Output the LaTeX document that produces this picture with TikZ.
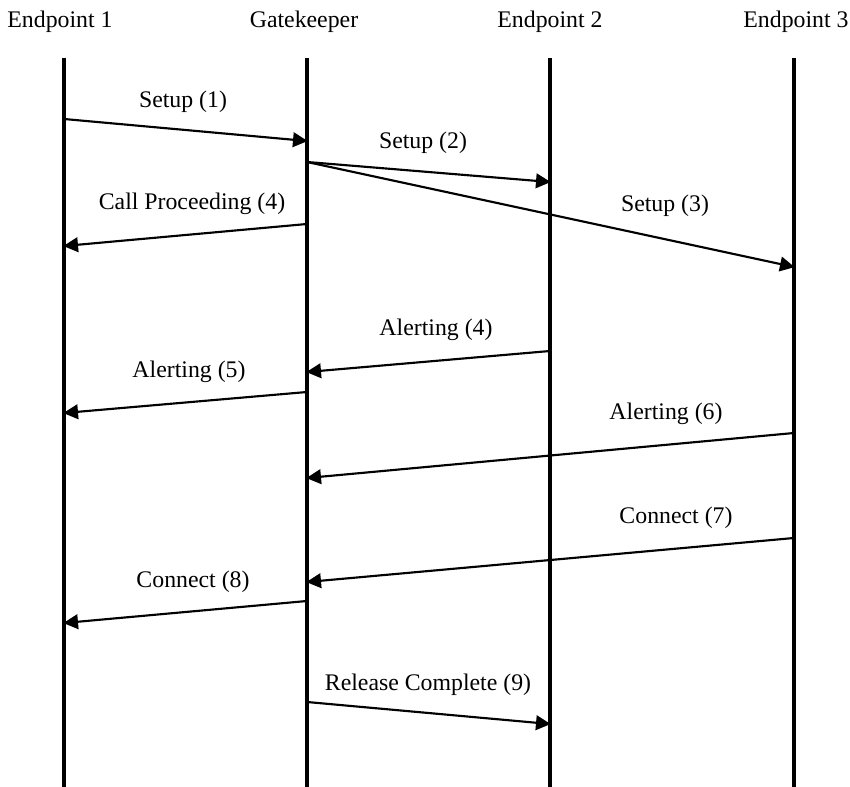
\documentclass[tikz,border=0pt]{standalone}
\usepackage{fontspec}
\setmainfont{Liberation Serif}
\usetikzlibrary{arrows.meta}
\begin{document}
\begin{tikzpicture}[x=0.75pt,y=-0.75pt,
  lbl/.style={inner sep=0pt,font=\fontsize{17.85}{20}\selectfont},
  life/.style={line width=2.3pt},
  msg/.style={line width=1.6pt,-{Triangle[length=11pt,width=11pt]},shorten >=-0.5pt}]
\useasboundingbox (0,0) rectangle (850,787);
% headers
\node[lbl] (h1) at (60,22) {Endpoint 1};
\node[lbl] (h2) at (304,22) {Gatekeeper};
\node[lbl] (h3) at (550,22) {Endpoint 2};
\node[lbl] (h4) at (796,22) {Endpoint 3};
% lifelines
\coordinate (t1) at (64,58); \coordinate (b1) at (64,787);
\coordinate (t2) at (307,58); \coordinate (b2) at (307,787);
\coordinate (t3) at (550,58); \coordinate (b3) at (550,787);
\coordinate (t4) at (794,58); \coordinate (b4) at (794,787);
\draw[life] (t1) -- (b1);
\draw[life] (t2) -- (b2);
\draw[life] (t3) -- (b3);
\draw[life] (t4) -- (b4);
% message end points
\coordinate (m1s) at (64,119);  \coordinate (m1e) at (307,141);
\coordinate (m2s) at (307,162); \coordinate (m2e) at (550,182);
\coordinate (m3e) at (794,267);
\coordinate (m4s) at (307,224); \coordinate (m4e) at (64,246);
\coordinate (m5s) at (550,351); \coordinate (m5e) at (307,372);
\coordinate (m6s) at (307,392); \coordinate (m6e) at (64,413);
\coordinate (m7s) at (794,433); \coordinate (m7e) at (307,478);
\coordinate (m8s) at (794,538); \coordinate (m8e) at (307,582);
\coordinate (m9s) at (307,601); \coordinate (m9e) at (64,623);
\coordinate (m10s) at (307,702); \coordinate (m10e) at (550,724);
% messages
\draw[msg] (m1s) -- (m1e);
\draw[msg] (m2s) -- (m2e);
\draw[msg] (m2s) -- (m3e);
\draw[msg] (m4s) -- (m4e);
\draw[msg] (m5s) -- (m5e);
\draw[msg] (m6s) -- (m6e);
\draw[msg] (m7s) -- (m7e);
\draw[msg] (m8s) -- (m8e);
\draw[msg] (m9s) -- (m9e);
\draw[msg] (m10s) -- (m10e);
% labels
\node[lbl] (l1) at (183,102) {Setup (1)};
\node[lbl] (l2) at (423,143) {Setup (2)};
\node[lbl] (l3) at (665,206) {Setup (3)};
\node[lbl] (l4) at (192,204) {Call Proceeding (4)};
\node[lbl] (l5) at (436,330) {Alerting (4)};
\node[lbl] (l6) at (189,372) {Alerting (5)};
\node[lbl] (l7) at (666,414) {Alerting (6)};
\node[lbl] (l8) at (676,518) {Connect (7)};
\node[lbl] (l9) at (193,582) {Connect (8)};
\node[lbl] (l10) at (428,685) {Release Complete (9)};
\end{tikzpicture}
\end{document}
